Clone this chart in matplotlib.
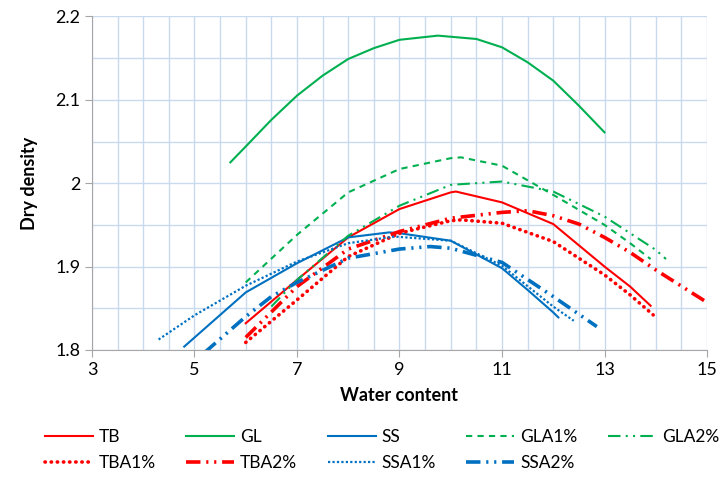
import numpy as np
import matplotlib.pyplot as plt

plt.rcParams['font.family'] = ['Lato', 'DejaVu Sans']

# ---------------------------------------------------------------------------
# Compaction curves (water content [%], dry density)
# ---------------------------------------------------------------------------
tb_x = [6, 7, 8, 9, 10, 10.1, 11, 12, 13, 13.5, 13.9]
tb_y = [1.832, 1.884, 1.935, 1.969, 1.989, 1.990, 1.977, 1.951, 1.900, 1.876, 1.853]

gl_x = [5.7, 6, 6.5, 7, 7.5, 8, 8.5, 9, 9.75, 10.5, 11, 11.5, 12, 12.5, 13]
gl_y = [2.025, 2.044, 2.076, 2.105, 2.129, 2.149, 2.162, 2.172, 2.177, 2.173,
        2.163, 2.145, 2.123, 2.093, 2.061]

ss_x = [4.8, 6, 7, 8, 8.8, 9, 10, 11, 11.5, 12, 12.1]
ss_y = [1.804, 1.869, 1.904, 1.935, 1.941, 1.940, 1.931, 1.898, 1.872, 1.845, 1.839]

gla1_x = [6, 7, 8, 9, 10, 10.2, 11, 12, 13, 13.5, 13.9]
gla1_y = [1.881, 1.938, 1.989, 2.017, 2.030, 2.031, 2.021, 1.986, 1.950, 1.928, 1.909]

gla2_x = [6.5, 7, 8, 9, 10, 11, 12, 13, 14, 14.2]
gla2_y = [1.852, 1.884, 1.937, 1.973, 1.998, 2.002, 1.990, 1.960, 1.920, 1.909]

tba1_x = [6, 7, 8, 9, 10, 10.2, 11, 12, 13, 13.5, 13.95]
tba1_y = [1.809, 1.860, 1.912, 1.940, 1.955, 1.956, 1.952, 1.930, 1.890, 1.866, 1.842]

tba2_x = [6, 7, 8, 9, 10, 11, 11.5, 12, 12.5, 13, 13.5, 14, 15]
tba2_y = [1.815, 1.876, 1.921, 1.942, 1.958, 1.965, 1.967, 1.961, 1.951, 1.935, 1.917, 1.896, 1.857]

ssa1_x = [4.3, 5, 6, 7, 8, 8.9, 10, 11, 12, 12.4]
ssa1_y = [1.8125, 1.8415, 1.877, 1.906, 1.928, 1.936, 1.931, 1.901, 1.852, 1.835]

ssa2_x = [5.2, 6, 6.5, 7, 8, 9, 9.6, 10, 11, 12, 12.85]
ssa2_y = [1.797, 1.840, 1.864, 1.881, 1.910, 1.921, 1.924, 1.922, 1.905, 1.864, 1.828]

x_ticks = [3, 5, 7, 9, 11, 13, 15]
y_ticks = [1.8, 1.9, 2.0, 2.1, 2.2]

RED = "#FF0000"
GREEN = "#00B050"
BLUE = "#0070C0"

dash_dot_dot = (0, (4, 1.6, 0.6, 1.6, 0.6, 1.6))

fig = plt.figure(figsize=(7.27, 4.84), dpi=100)
ax = fig.add_axes([0.1265, 0.277, 0.846, 0.689])

lines = {}
lines["TB"], = ax.plot(tb_x, tb_y, color=RED, lw=1.5, label="TB")
lines["GL"], = ax.plot(gl_x, gl_y, color=GREEN, lw=1.5, label="GL")
lines["SS"], = ax.plot(ss_x, ss_y, color=BLUE, lw=1.5, label="SS")
lines["GLA1%"], = ax.plot(gla1_x, gla1_y, color=GREEN, lw=1.5,
                          ls=(0, (3, 2.5)), label="GLA1%")
lines["GLA2%"], = ax.plot(gla2_x, gla2_y, color=GREEN, lw=1.5,
                          ls=(0, (6, 2.5, 1, 2.5, 1, 2.5)), label="GLA2%")
lines["TBA1%"], = ax.plot(tba1_x, tba1_y, color=RED, lw=2.6,
                          ls=(0, (0.1, 1.6)), dash_capstyle="round", label="TBA1%")
lines["TBA2%"], = ax.plot(tba2_x, tba2_y, color=RED, lw=2.6,
                          ls=dash_dot_dot, label="TBA2%")
lines["SSA1%"], = ax.plot(ssa1_x, ssa1_y, color=BLUE, lw=1.6,
                          ls=(0, (1, 1)), label="SSA1%")
lines["SSA2%"], = ax.plot(ssa2_x, ssa2_y, color=BLUE, lw=2.6,
                          ls=dash_dot_dot, label="SSA2%")

# axes styling, Excel-like
ax.set_xlim(3, 15)
ax.set_ylim(1.8, 2.2)
ax.set_xticks(x_ticks)
ax.set_xticklabels([f"{v:g}" for v in x_ticks])
ax.set_xticks(np.arange(3, 15.01, 0.5), minor=True)
ax.set_yticks(y_ticks)
ax.set_yticklabels([f"{v:g}" for v in y_ticks])
ax.set_yticks(np.arange(1.8, 2.2, 0.05), minor=True)
ax.grid(True, which="both", color="#C9DAEE", lw=1.0)
ax.set_axisbelow(True)
for side in ("top", "right"):
    ax.spines[side].set_visible(False)
for side in ("left", "bottom"):
    ax.spines[side].set_color("#A6A6A6")
ax.tick_params(which="major", length=5, color="#A6A6A6", labelsize=13)
ax.tick_params(which="minor", length=0)

ax.set_xlabel("Water content", fontsize=13, fontweight="bold", labelpad=7)
ax.set_ylabel("Dry density", fontsize=13, fontweight="bold", labelpad=12)

# legend in two rows below the plot (reordered so it fills row by row)
order = ["TB", "TBA1%", "GL", "TBA2%", "SS", "SSA1%", "GLA1%", "SSA2%", "GLA2%"]
fig.legend([lines[k] for k in order], order, ncol=5, frameon=False,
           loc="upper left", bbox_to_anchor=(0.052, 0.128), fontsize=12.5,
           handlelength=2.76, handletextpad=0.35, columnspacing=1.75,
           labelspacing=0.6, borderaxespad=0)

fig.savefig("out.png", dpi=100)
